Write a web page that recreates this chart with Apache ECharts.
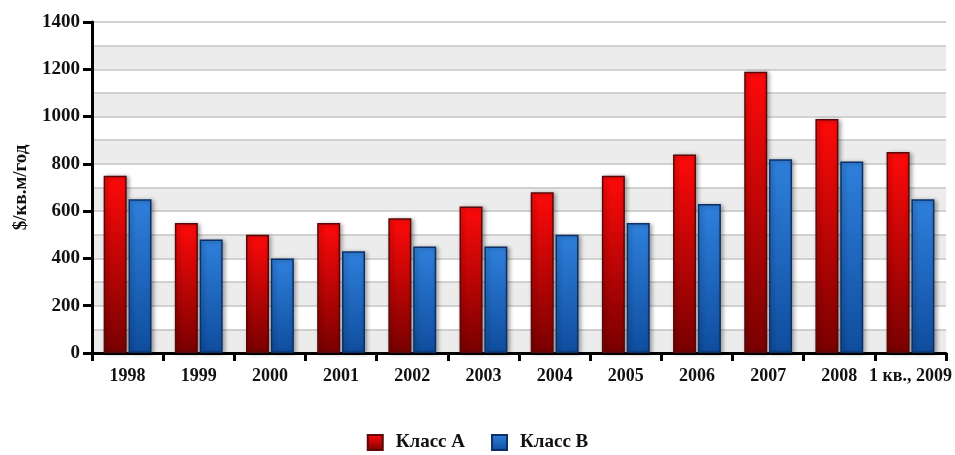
<!DOCTYPE html>
<html><head><meta charset="utf-8">
<script src="https://cdn.jsdelivr.net/npm/echarts@6/dist/echarts.min.js"></script>
<style>html,body{margin:0;padding:0;background:#fff}#c{width:955px;height:455px}</style>
</head><body><div id="c"></div>
<script>
var categories = ['1998','1999','2000','2001','2002','2003','2004','2005','2006','2007','2008','1 кв., 2009'];
var classA = [750, 550, 500, 550, 570, 620, 680, 750, 840, 1190, 990, 850];
var classB = [650, 480, 400, 430, 450, 450, 500, 550, 630, 820, 810, 650];
var seriesNames = ['Класс А', 'Класс В'];
var yTitle = '$/кв.м/год';

var font = '"Liberation Serif", "DejaVu Serif", serif';
function grad(top, bottom) {
  return new echarts.graphic.LinearGradient(0, 0, 0, 1, [
    {offset: 0, color: top}, {offset: 1, color: bottom}
  ]);
}
var chart = echarts.init(document.getElementById('c'), null, {renderer: 'canvas'});
chart.setOption({
  animation: false,
  backgroundColor: '#ffffff',
  grid: {left: 92, right: 8, top: 22, bottom: 102, containLabel: false},
  legend: {
    top: 428, left: 'center', itemWidth: 15, itemHeight: 15, itemGap: 26,
    icon: 'rect',
    textStyle: {fontFamily: font, fontWeight: 'bold', fontSize: 19, color: '#111', padding: [0, 0, 0, 8]},
    data: seriesNames
  },
  xAxis: {
    type: 'category', data: categories,
    axisLine: {lineStyle: {color: '#000', width: 3}},
    axisTick: {show: true, alignWithLabel: false, length: 8, lineStyle: {color: '#000', width: 3}},
    axisLabel: {interval: 0, fontFamily: font, fontWeight: 'bold', fontSize: 18, color: '#111', margin: 14}
  },
  yAxis: [{
    type: 'value', min: 0, max: 1400, interval: 200,
    name: yTitle, nameLocation: 'middle', nameGap: 61, nameRotate: 90,
    nameTextStyle: {fontFamily: font, fontWeight: 'bold', fontSize: 19, color: '#111'},
    axisLine: {show: true, lineStyle: {color: '#000', width: 3}},
    axisTick: {show: true, length: 9, lineStyle: {color: '#000', width: 3}},
    axisLabel: {fontFamily: font, fontWeight: 'bold', fontSize: 19, color: '#111', margin: 12,
      formatter: function (v) { return String(v); }},
    splitLine: {show: false}
  }, {
    type: 'value', min: 0, max: 1400, interval: 100, position: 'left',
    axisLine: {show: false}, axisTick: {show: false}, axisLabel: {show: false},
    splitLine: {show: true, lineStyle: {color: '#c4c4c4', width: 1.5}},
    splitArea: {show: true, areaStyle: {color: ['#ececec', '#ffffff']}}
  }],
  series: [{
    name: seriesNames[0], type: 'bar', yAxisIndex: 0, data: classA,
    barWidth: 23, barGap: '8%',
    itemStyle: {color: grad('#ff0a0a', '#780000'), borderColor: '#5a0808', borderWidth: 1.5,
      shadowBlur: 4, shadowOffsetX: 2, shadowOffsetY: 1, shadowColor: 'rgba(0,0,0,0.35)'}
  }, {
    name: seriesNames[1], type: 'bar', yAxisIndex: 0, data: classB,
    barWidth: 23,
    itemStyle: {color: grad('#2f80dc', '#0f4d9e'), borderColor: '#0b2f66', borderWidth: 1.5,
      shadowBlur: 4, shadowOffsetX: 2, shadowOffsetY: 1, shadowColor: 'rgba(0,0,0,0.35)'}
  }]
});
</script></body></html>
